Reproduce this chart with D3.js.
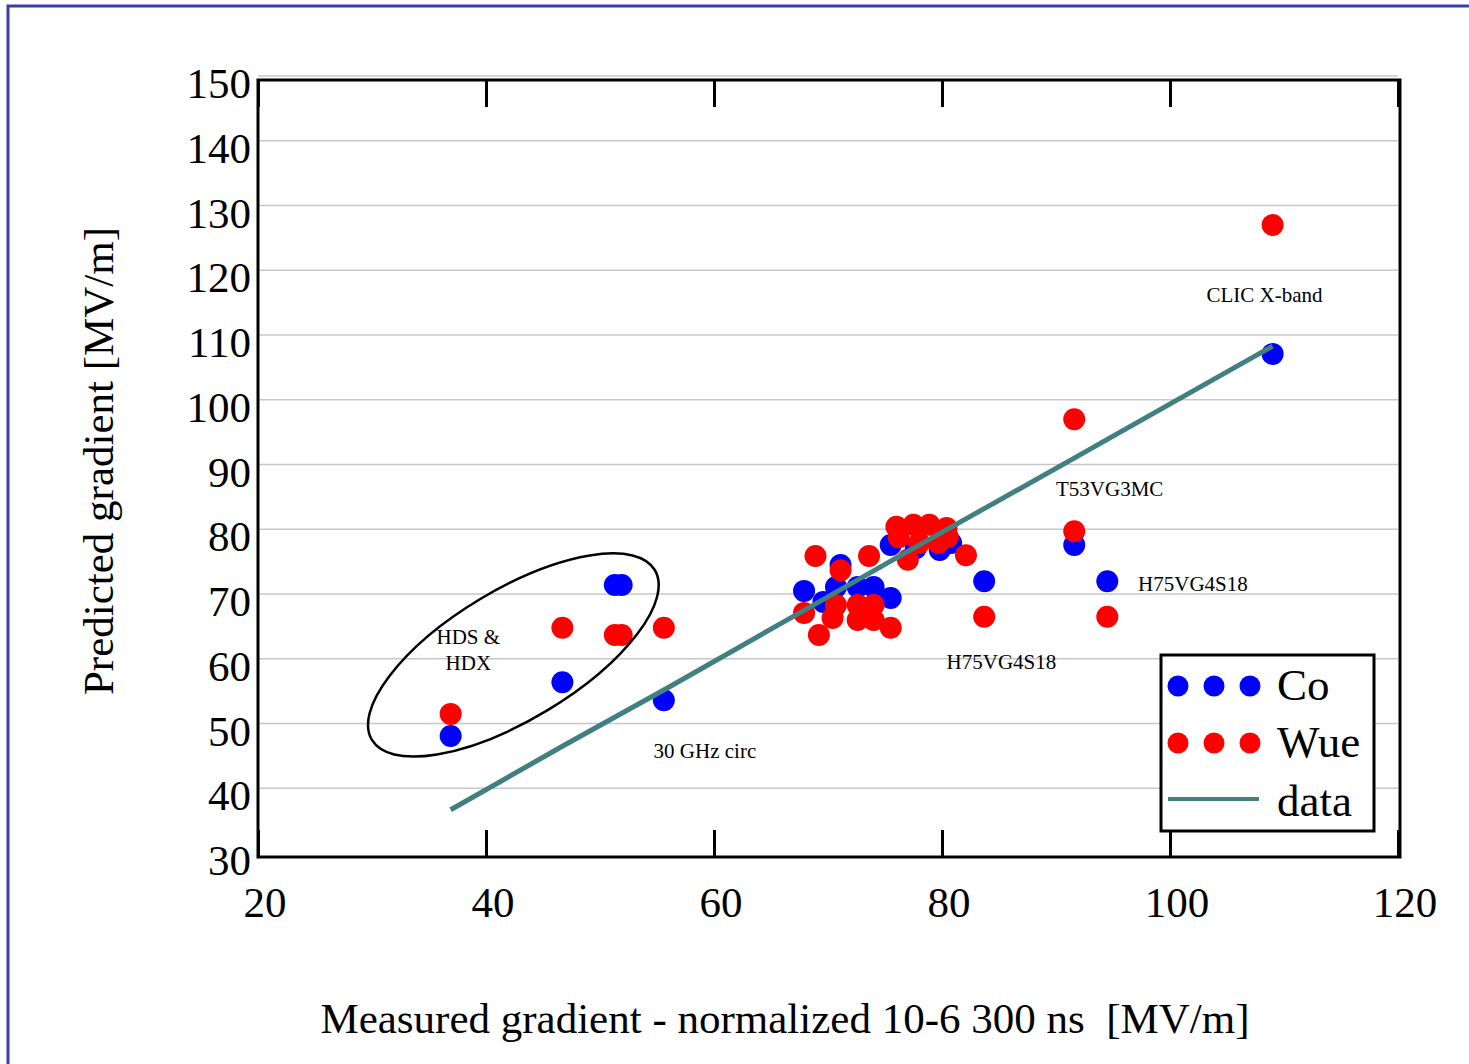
<!DOCTYPE html>
<html>
<head>
<meta charset="utf-8">
<script src="https://cdn.jsdelivr.net/npm/d3@7"></script>
<style>
  body { margin: 0; background: #fff; }
  text { font-family: "Liberation Serif", "Times New Roman", serif; }
</style>
</head>
<body>
<div id="chart"></div>
<script>
// values
var coX  = [36.9, 46.7, 51.3, 51.9, 55.6, 67.9, 69.6, 70.7, 71.1, 72.6, 74.0, 75.5, 75.5, 77.7, 79.8, 80.8, 83.7, 91.6, 94.5, 109.0];
var coY  = [48.7, 57.0, 72.0, 72.0, 54.2, 71.1, 69.4, 71.7, 75.1, 71.7, 71.7, 70.0, 78.2, 77.7, 77.4, 78.5, 72.6, 78.2, 72.6, 107.7];
var wueX = [36.9, 46.7, 51.3, 51.9, 55.6, 67.9, 68.9, 69.2, 70.4, 70.7, 71.1, 72.6, 72.6, 73.6, 74.0, 74.0, 75.5, 76.0, 76.2, 77.0, 77.5, 78.0, 78.9, 79.7, 80.4, 80.5, 82.1, 83.7, 91.6, 91.6, 94.5, 109.0];
var wueY = [52.1, 65.4, 64.3, 64.3, 65.4, 67.7, 76.5, 64.3, 66.9, 68.9, 74.3, 68.9, 66.6, 76.5, 68.9, 66.6, 65.4, 81.0, 79.4, 75.9, 81.3, 78.5, 81.3, 78.5, 80.8, 79.4, 76.6, 67.1, 97.6, 80.3, 67.1, 127.6];
var dataX = [36.9, 46.7, 51.6, 55.6, 67.9, 76.0, 83.7, 91.6, 94.5, 109.0];
var dataY = [37.3, 47.1, 51.9, 55.8, 68.1, 76.2, 83.8, 91.6, 94.5, 108.9];
var xTicks = [20, 40, 60, 80, 100, 120];
var yTicks = [30, 40, 50, 60, 70, 80, 90, 100, 110, 120, 130, 140, 150];
var notes = [
  {text: "CLIC X-band", x: 103.2, y: 115.7},
  {text: "T53VG3MC", x: 90.0, y: 85.8},
  {text: "H75VG4S18", x: 97.2, y: 71.1},
  {text: "H75VG4S18", x: 80.4, y: 59.0},
  {text: "30 GHz circ", x: 54.7, y: 45.3}
];

var width = 1469, height = 1064;
var margin = {left: 258, right: 71, top: 80, bottom: 207};

var svg = d3.select("#chart").append("svg")
  .attr("width", width).attr("height", height);

// outer slide frame
svg.append("path")
  .attr("d", "M8,1064 L8,6 L1469,6")
  .attr("fill", "none").attr("stroke", "#3c3caa").attr("stroke-width", 3);

var x = d3.scaleLinear().domain([20, 120]).range([margin.left, width - margin.right]);
var y = d3.scaleLinear().domain([30, 150]).range([height - margin.bottom, margin.top]);

// gridlines (sit a few pixels above the value in the original)
svg.append("g")
  .selectAll("line")
  .data(yTicks.slice(1))
  .join("line")
    .attr("x1", x(20)).attr("x2", x(120))
    .attr("y1", d => y(d) - 4).attr("y2", d => y(d) - 4)
    .attr("stroke", "#c8c8c8").attr("stroke-width", 1.3);

// frame of the plot
svg.append("rect")
  .attr("x", x(20)).attr("y", y(150))
  .attr("width", x(120) - x(20) + 2).attr("height", y(30) - y(150))
  .attr("fill", "none").attr("stroke", "#000").attr("stroke-width", 3);

// inward ticks top and bottom
var bottomAxis = d3.axisBottom(x).tickValues(xTicks).tickSize(-27).tickFormat("");
var topAxis = d3.axisTop(x).tickValues(xTicks).tickSize(-27).tickFormat("");
var gb = svg.append("g").attr("transform", "translate(0," + y(30) + ")").call(bottomAxis);
var gt = svg.append("g").attr("transform", "translate(0," + y(150) + ")").call(topAxis);
[gb, gt].forEach(function(g){
  g.select(".domain").remove();
  g.selectAll("line").attr("stroke", "#000").attr("stroke-width", 3);
});

// tick labels
svg.append("g")
  .selectAll("text")
  .data(xTicks)
  .join("text")
    .attr("x", d => x(d) + 7)
    .attr("y", 917)
    .attr("text-anchor", "middle")
    .attr("font-size", 43)
    .text(d => d);

svg.append("g")
  .selectAll("text")
  .data(yTicks)
  .join("text")
    .attr("x", 251)
    .attr("y", d => y(d) + 18)
    .attr("text-anchor", "end")
    .attr("font-size", 43)
    .text(d => d);

// axis titles
svg.append("text")
  .attr("x", 785).attr("y", 1033)
  .attr("text-anchor", "middle")
  .attr("font-size", 43)
  .attr("xml:space", "preserve")
  .text("Measured gradient - normalized 10-6 300 ns  [MV/m]");

svg.append("text")
  .attr("transform", "translate(113,461) rotate(-90)")
  .attr("text-anchor", "middle")
  .attr("font-size", 43)
  .text("Predicted gradient [MV/m]");

// points
svg.append("g")
  .selectAll("circle")
  .data(coX.map((d, i) => [d, coY[i]]))
  .join("circle")
    .attr("cx", d => x(d[0])).attr("cy", d => y(d[1]))
    .attr("r", 11).attr("fill", "#0000ff");

svg.append("g")
  .selectAll("circle")
  .data(wueX.map((d, i) => [d, wueY[i]]))
  .join("circle")
    .attr("cx", d => x(d[0])).attr("cy", d => y(d[1]))
    .attr("r", 11).attr("fill", "#ff0000");

// data line
var line = d3.line().x(d => x(d[0])).y(d => y(d[1]));
svg.append("path")
  .datum(dataX.map((d, i) => [d, dataY[i]]))
  .attr("d", line)
  .attr("fill", "none").attr("stroke", "#408080").attr("stroke-width", 5);

// HDS & HDX ellipse
svg.append("ellipse")
  .attr("transform", "translate(" + x(42.4) + "," + y(61.2) + ") rotate(-31)")
  .attr("rx", 165).attr("ry", 65)
  .attr("fill", "none").attr("stroke", "#000").attr("stroke-width", 2.5);

svg.append("text")
  .attr("x", x(38.45)).attr("y", y(62.9))
  .attr("text-anchor", "middle").attr("font-size", 21)
  .text("HDS &");
svg.append("text")
  .attr("x", x(38.45)).attr("y", y(58.9))
  .attr("text-anchor", "middle").attr("font-size", 21)
  .text("HDX");

// annotations
svg.append("g")
  .selectAll("text")
  .data(notes)
  .join("text")
    .attr("x", d => x(d.x)).attr("y", d => y(d.y))
    .attr("font-size", 21)
    .text(d => d.text);

// legend
var lg = svg.append("g").attr("transform", "translate(1161,655)");
lg.append("rect")
  .attr("width", 213).attr("height", 176)
  .attr("fill", "#fff").attr("stroke", "#000").attr("stroke-width", 3);
var legendItems = [
  {name: "Co", color: "#0000ff", type: "dot"},
  {name: "Wue", color: "#ff0000", type: "dot"},
  {name: "data", color: "#408080", type: "line"}
];
legendItems.forEach(function(it, i){
  var cy = 31 + i * 57;
  if (it.type == "dot") {
    [17, 53, 89].forEach(function(cx){
      lg.append("circle").attr("cx", cx).attr("cy", cy).attr("r", 10.5).attr("fill", it.color);
    });
  } else {
    lg.append("line").attr("x1", 7).attr("x2", 98).attr("y1", cy - 1).attr("y2", cy - 1)
      .attr("stroke", it.color).attr("stroke-width", 4);
  }
  lg.append("text").attr("x", 116).attr("y", cy + 14 + (i == 2 ? 2 : 0))
    .attr("font-size", 45).text(it.name);
});
</script>
</body>
</html>
